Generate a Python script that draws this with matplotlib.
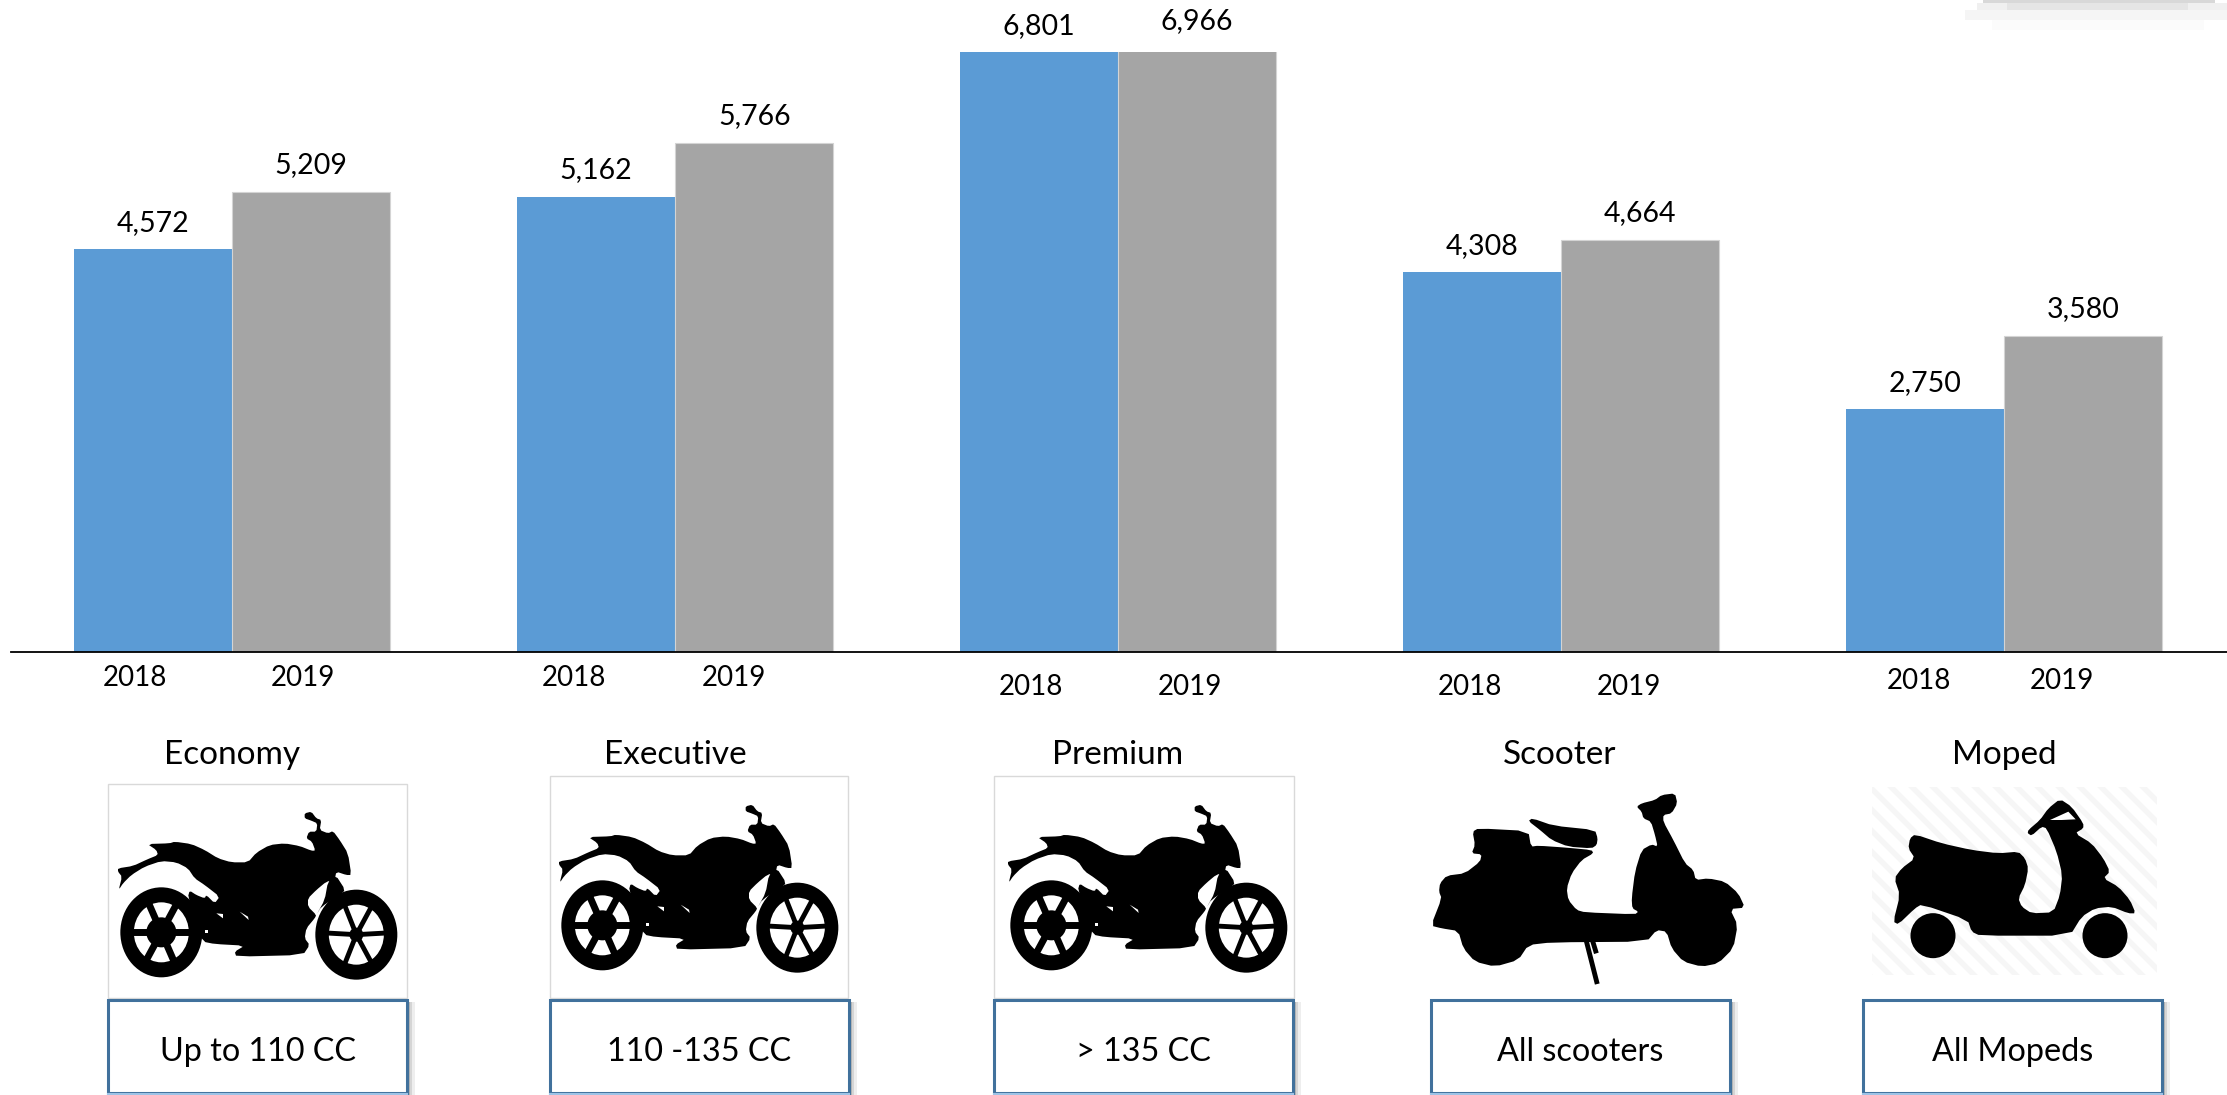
import numpy as np
import matplotlib
matplotlib.use('Agg')
import matplotlib.pyplot as plt
from matplotlib.patches import Polygon, Ellipse, Rectangle

plt.rcParams['font.family'] = ['Lato', 'DejaVu Sans']

segments = ['Economy', 'Executive', 'Premium', 'Scooter', 'Moped']
ranges = ['Up to 110 CC', '110 -135 CC', '> 135 CC', 'All scooters', 'All Mopeds']
values_2018 = [4572, 5162, 6801, 4308, 2750]
values_2019 = [5209, 5766, 6966, 4664, 3580]
years = ['2018', '2019']

W, H = 2227, 1095
BLUE = '#5B9BD5'
GRAY = '#A5A5A5'
FS = 20.5

# pixel positions of the pieces laid out around the chart
year_x = [(135, 303), (574, 734), (1031, 1190), (1470, 1629), (1919, 2062)]
year_y = [678, 678, 687, 687, 681]
segment_x = [232, 675, 1118, 1560, 2004]
box_x = [108, 550, 994, 1431, 1863]
box_w = 299
pic_box = [(108, 784, 299, 214), (550, 776, 298, 222), (994, 776, 300, 222)]
bike_origin = [(108, 800), (549, 793), (998, 793)]

# outlines, in 3x crop pixels
bike_body = [(30, 205), (75, 198), (118, 178), (150, 165), (145, 150), (118, 132), (185, 130),
             (200, 125), (250, 132), (290, 150), (330, 175), (370, 187), (420, 187), (445, 158),
             (485, 135), (530, 130), (575, 138), (610, 152), (622, 152), (612, 125), (595, 115),
             (603, 95), (625, 95), (628, 70), (610, 62), (590, 55), (590, 40), (610, 35), (625, 55),
             (640, 60), (635, 90), (660, 100), (675, 93), (695, 120), (720, 160), (730, 225),
             (715, 225), (685, 215), (680, 240), (655, 245), (625, 270), (600, 295), (600, 320),
             (625, 345), (620, 355), (595, 385), (590, 415), (605, 435), (585, 465), (385, 470),
             (380, 455), (410, 437), (320, 432), (285, 425), (270, 380), (240, 290), (245, 272),
             (265, 285), (290, 295), (295, 285), (320, 310), (335, 290), (290, 255), (260, 235),
             (240, 205), (205, 187), (160, 183), (110, 200), (70, 225), (45, 250), (32, 270),
             (42, 230), (30, 215)]
bike_fork = [(660, 245), (683, 225), (712, 270), (695, 285), (640, 320), (625, 345), (650, 300)]
bike_gaps = [[(325, 340), (345, 342), (345, 355)], [(395, 335), (420, 350), (422, 360)],
             [(290, 390), (300, 390), (300, 400), (290, 400)]]
rear_spokes = [-115, -60, 0, 65, 120, 180]
front_spokes = [-113, -60, -3, 60, 113, 183]

scooter_body = [(18, 422), (50, 340), (42, 320), (45, 295), (65, 272), (120, 265), (165, 230),
                (170, 208), (140, 205), (150, 180), (143, 140), (160, 130), (310, 138), (318, 185),
                (340, 182), (425, 188), (500, 195), (505, 205), (470, 225), (440, 265), (425, 310),
                (430, 345), (455, 375), (480, 382), (630, 388), (640, 380), (622, 370), (620, 340),
                (630, 260), (650, 195), (680, 178), (698, 185), (690, 150), (678, 110), (655, 100),
                (650, 80), (635, 65), (650, 55), (690, 45), (710, 30), (750, 25), (757, 55),
                (740, 85), (715, 90), (715, 110), (745, 165), (780, 235), (805, 255), (812, 285),
                (850, 280), (900, 290), (940, 325), (960, 368), (915, 372), (938, 420), (925, 490),
                (880, 535), (830, 545), (775, 530), (740, 490), (725, 440), (695, 435), (665, 470),
                (380, 472), (310, 480), (280, 525), (210, 545), (150, 530), (115, 490), (100, 438),
                (50, 430)]
scooter_seat = [(310, 108), (322, 100), (385, 122), (510, 135), (518, 160), (515, 180), (500, 190),
                (430, 185), (380, 165), (345, 135)]

moped_body = [(150, 148), (230, 175), (320, 195), (400, 205), (460, 200), (480, 220), (490, 250),
              (480, 300), (460, 340), (470, 365), (500, 385), (565, 382), (585, 330), (592, 270),
              (575, 200), (545, 130), (530, 125), (500, 152), (488, 145), (490, 135), (525, 105),
              (550, 70), (585, 42), (620, 65), (655, 115), (655, 130), (630, 145), (680, 175),
              (715, 220), (735, 260), (715, 280), (760, 305), (795, 345), (812, 385), (790, 385),
              (740, 365), (690, 370), (650, 395), (615, 452), (345, 452), (320, 440), (308, 405),
              (170, 358), (150, 370), (100, 418), (85, 410), (105, 330), (88, 280), (110, 250),
              (150, 220), (130, 190), (135, 160)]
moped_window = [(555, 105), (610, 80), (632, 103), (590, 105)]


def smooth(pts, n=1):
    # corner cutting so the traced outlines are not too angular
    for _ in range(n):
        nxt = np.roll(pts, -1, axis=0)
        q = 0.8 * pts + 0.2 * nxt
        r = 0.2 * pts + 0.8 * nxt
        pts = np.empty((len(q) * 2, 2))
        pts[0::2] = q
        pts[1::2] = r
    return pts


def crop_xy(pts, origin):
    return np.array(pts, dtype=float) / 3 + np.array(origin)


def blob(ov, pts, origin, color='black'):
    ov.add_patch(Polygon(smooth(crop_xy(pts, origin)), color=color, lw=0))


def wheel(ov, c, hub, spokes, lw):
    ov.add_patch(Ellipse(c, 82, 90, color='black', lw=0))
    ov.add_patch(Ellipse(c, 55, 60, color='white', lw=0))
    ov.add_patch(Ellipse(c, hub, hub, color='black', lw=0))
    for a in np.radians(spokes):
        ov.plot([c[0], c[0] + 29 * np.cos(a)], [c[1], c[1] + 31 * np.sin(a)], color='black', lw=lw,
                solid_capstyle='butt')


def draw_bike(ov, origin):
    blob(ov, bike_body, origin)
    blob(ov, bike_fork, origin)
    wheel(ov, crop_xy([(160, 397)], origin)[0], 30, rear_spokes, 5)
    wheel(ov, crop_xy([(745, 404)], origin)[0], 14, front_spokes, 3.5)
    for gap in bike_gaps:
        ov.add_patch(Polygon(crop_xy(gap, origin), color='white', lw=0, zorder=3))


fig = plt.figure(figsize=(W / 100, H / 100), dpi=100)
ax = fig.add_axes([11 / W, (H - 652) / H, (W - 11) / W, 600 / H])

x = np.arange(len(segments))
bar_w = 0.3575
ax.bar(x - bar_w / 2, values_2018, bar_w, color=BLUE)
ax.bar(x + bar_w / 2, values_2019, bar_w, color=GRAY, edgecolor='#d4d4d4', linewidth=0.8)
ax.set_xlim((11 - 232) / 443, (W - 232) / 443)
ax.set_ylim(0, 6800)
for side in ['top', 'left', 'right']:
    ax.spines[side].set_visible(False)
ax.spines['bottom'].set_linewidth(1.3)
ax.set_xticks([])
ax.set_yticks([])

for i in range(len(segments)):
    ax.annotate(f'{values_2018[i]:,}', (x[i] - bar_w / 2, values_2018[i]), xytext=(0, 26),
                textcoords='offset pixels', ha='center', va='center', fontsize=FS,
                annotation_clip=False)
    off = 27 if values_2019[i] < 6900 else 16
    ax.annotate(f'{values_2019[i]:,}', (x[i] + bar_w / 2, values_2019[i]), xytext=(0, off),
                textcoords='offset pixels', ha='center', va='center', fontsize=FS,
                annotation_clip=False)

# everything under the axis is placed in pixels on an overlay
ov = fig.add_axes([0, 0, 1, 1], facecolor='none')
ov.set_xlim(0, W)
ov.set_ylim(H, 0)
ov.axis('off')

# shadow of a cropped shape in the top right corner
for y0, y1, x0, x1, c in [(20, 30, 1992, 2204, '#fbfbfb'), (10, 20, 1965, 2227, '#f5f5f5'),
                          (3, 10, 1977, 2227, '#f0f0f0'), (3, 10, 2007, 2188, '#e5e5e5'),
                          (0, 3, 1983, 2215, '#d8d8d8')]:
    ov.add_patch(Rectangle((x0, y0), x1 - x0, y1 - y0, color=c, lw=0))

for i in range(len(segments)):
    for j in range(2):
        ov.text(year_x[i][j], year_y[i], years[j], ha='center', va='center', fontsize=FS - 0.5)
    ov.text(segment_x[i], 755, segments[i], ha='center', va='center', fontsize=FS + 3.5)

for bx, by, bw, bh in pic_box:
    ov.add_patch(Rectangle((bx, by), bw, bh, fc='white', ec='#d9d9d9', lw=1))
for origin in bike_origin:
    draw_bike(ov, origin)

# scooter
blob(ov, scooter_body, (1425, 785))
blob(ov, scooter_seat, (1425, 785))
for seg in [[(485, 472), (515, 590)], [(505, 475), (512, 498)]]:
    stand = crop_xy(seg, (1425, 785))
    ov.plot(stand[:, 0], stand[:, 1], color='black', lw=3.5)

# moped on its faint striped square
clip = Rectangle((1872, 787), 285, 188, fc='white', ec='none', zorder=0.4)
ov.add_patch(clip)
for s in np.arange(1660, 2160, 21):
    line, = ov.plot([s, s + 188], [787, 975], color='#f6f6f6', lw=4, zorder=0.5)
    line.set_clip_path(clip)
blob(ov, moped_body, (1865, 785))
ov.add_patch(Polygon(crop_xy(moped_window, (1865, 785)), color='white', lw=0))
for c in crop_xy([(204, 452), (720, 452)], (1865, 785)):
    ov.add_patch(Ellipse(c, 45, 45, color='black', lw=0))

# range boxes, they run off the bottom of the picture
for i in range(len(segments)):
    for off, col in [(8, '#eeeeee'), (5, '#d5d5d5'), (3, '#b5b5b5')]:
        ov.add_patch(Rectangle((box_x[i] + off, 1002), box_w, H - 1002, color=col, lw=0))
    ov.add_patch(Rectangle((box_x[i], 1000), box_w, 93, fc='white', ec='#41719C', lw=2.2))
    ov.plot([box_x[i], box_x[i] + box_w], [1094, 1094], color='#9DC3E6', lw=1.5)
    ov.text(box_x[i] + box_w / 2, 1052, ranges[i], ha='center', va='center', fontsize=FS + 2.8)

fig.savefig('out.png', dpi=100)
